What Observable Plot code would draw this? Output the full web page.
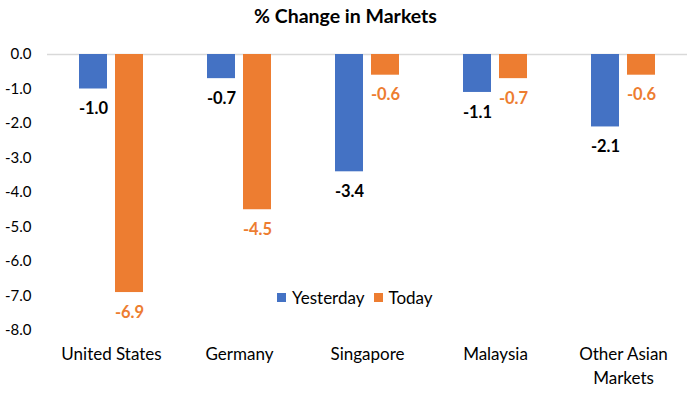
<!DOCTYPE html>
<html>
<head>
<meta charset="utf-8">
<script src="https://cdn.jsdelivr.net/npm/d3@7"></script>
<script src="https://cdn.jsdelivr.net/npm/@observablehq/plot@0.6"></script>
<style>
  html, body { margin: 0; padding: 0; background: #fff; }
  #wrap { position: relative; width: 691px; height: 394px; font-family: Lato, "Open Sans", sans-serif; }
  #title { position: absolute; left: 0; width: 691px; top: 4px; text-align: center; font-weight: bold; font-size: 19.5px; color: #000; }
  #legend { position: absolute; top: 287px; left: 277px; font-size: 17px; color: #000; display: flex; align-items: center; white-space: nowrap; }
  #legend .sw { display: inline-block; width: 9px; height: 9px; margin-right: 6px; }
  #legend .item { display: inline-flex; align-items: center; margin-right: 9px; }
</style>
</head>
<body>
<div id="wrap">
  <div id="title">% Change in Markets</div>
  <div id="chart"></div>
  <div id="legend"></div>
</div>
<script>
const categories = ["United States", "Germany", "Singapore", "Malaysia", "Other Asian Markets"];
const categoryLabels = ["United States", "Germany", "Singapore", "Malaysia", "Other Asian\nMarkets"];
const series = ["Yesterday", "Today"];
const yesterday = [-1.0, -0.7, -3.4, -1.1, -2.1];
const today = [-6.9, -4.5, -0.6, -0.7, -0.6];
const yTicks = [0, -1, -2, -3, -4, -5, -6, -7, -8];
const barColors = ["#4472C4", "#ED7D31"];
const labelColors = ["#000000", "#ED7D31"];

const data = [];
categories.forEach((c, i) => {
  data.push({category: c, series: "Yesterday", value: yesterday[i]});
  data.push({category: c, series: "Today", value: today[i]});
});

const chart = Plot.plot({
  width: 691,
  height: 394,
  marginTop: 54,
  marginBottom: 64,
  marginLeft: 46,
  marginRight: 3,
  style: {fontFamily: "Lato, 'Open Sans', sans-serif", background: "#fff", color: "#000"},
  fx: {domain: categories, padding: 0, label: null},
  x: {domain: series, paddingInner: 0.22, paddingOuter: 0.87, axis: null},
  y: {domain: [-8, 0], label: null},
  color: {domain: series, range: barColors},
  marks: [
    Plot.ruleY([0], {stroke: "#D9D9D9", strokeWidth: 1.3}),
    Plot.barY(data, {fx: "category", x: "series", y1: 0, y2: "value", fill: "series"}),
    Plot.text(data, {
      fx: "category", x: "series", y: "value",
      text: d => d.value.toFixed(1),
      fill: d => labelColors[series.indexOf(d.series)],
      fontWeight: "bold", fontSize: 16.5, dy: 20
    }),
    Plot.axisY(yTicks, {
      tickSize: 0, tickPadding: 16, fontSize: 15,
      tickFormat: d => d.toFixed(1), label: null
    }),
    Plot.axisFx({
      anchor: "bottom", tickSize: 0, tickPadding: 13, fontSize: 17, label: null,
      lineHeight: 1.4,
      tickFormat: d => categoryLabels[categories.indexOf(d)]
    })
  ]
});
document.getElementById("chart").appendChild(chart);

const legend = document.getElementById("legend");
series.forEach((s, i) => {
  const item = document.createElement("span");
  item.className = "item";
  const sw = document.createElement("span");
  sw.className = "sw";
  sw.style.background = barColors[i];
  item.appendChild(sw);
  item.appendChild(document.createTextNode(s));
  legend.appendChild(item);
});
</script>
</body>
</html>
